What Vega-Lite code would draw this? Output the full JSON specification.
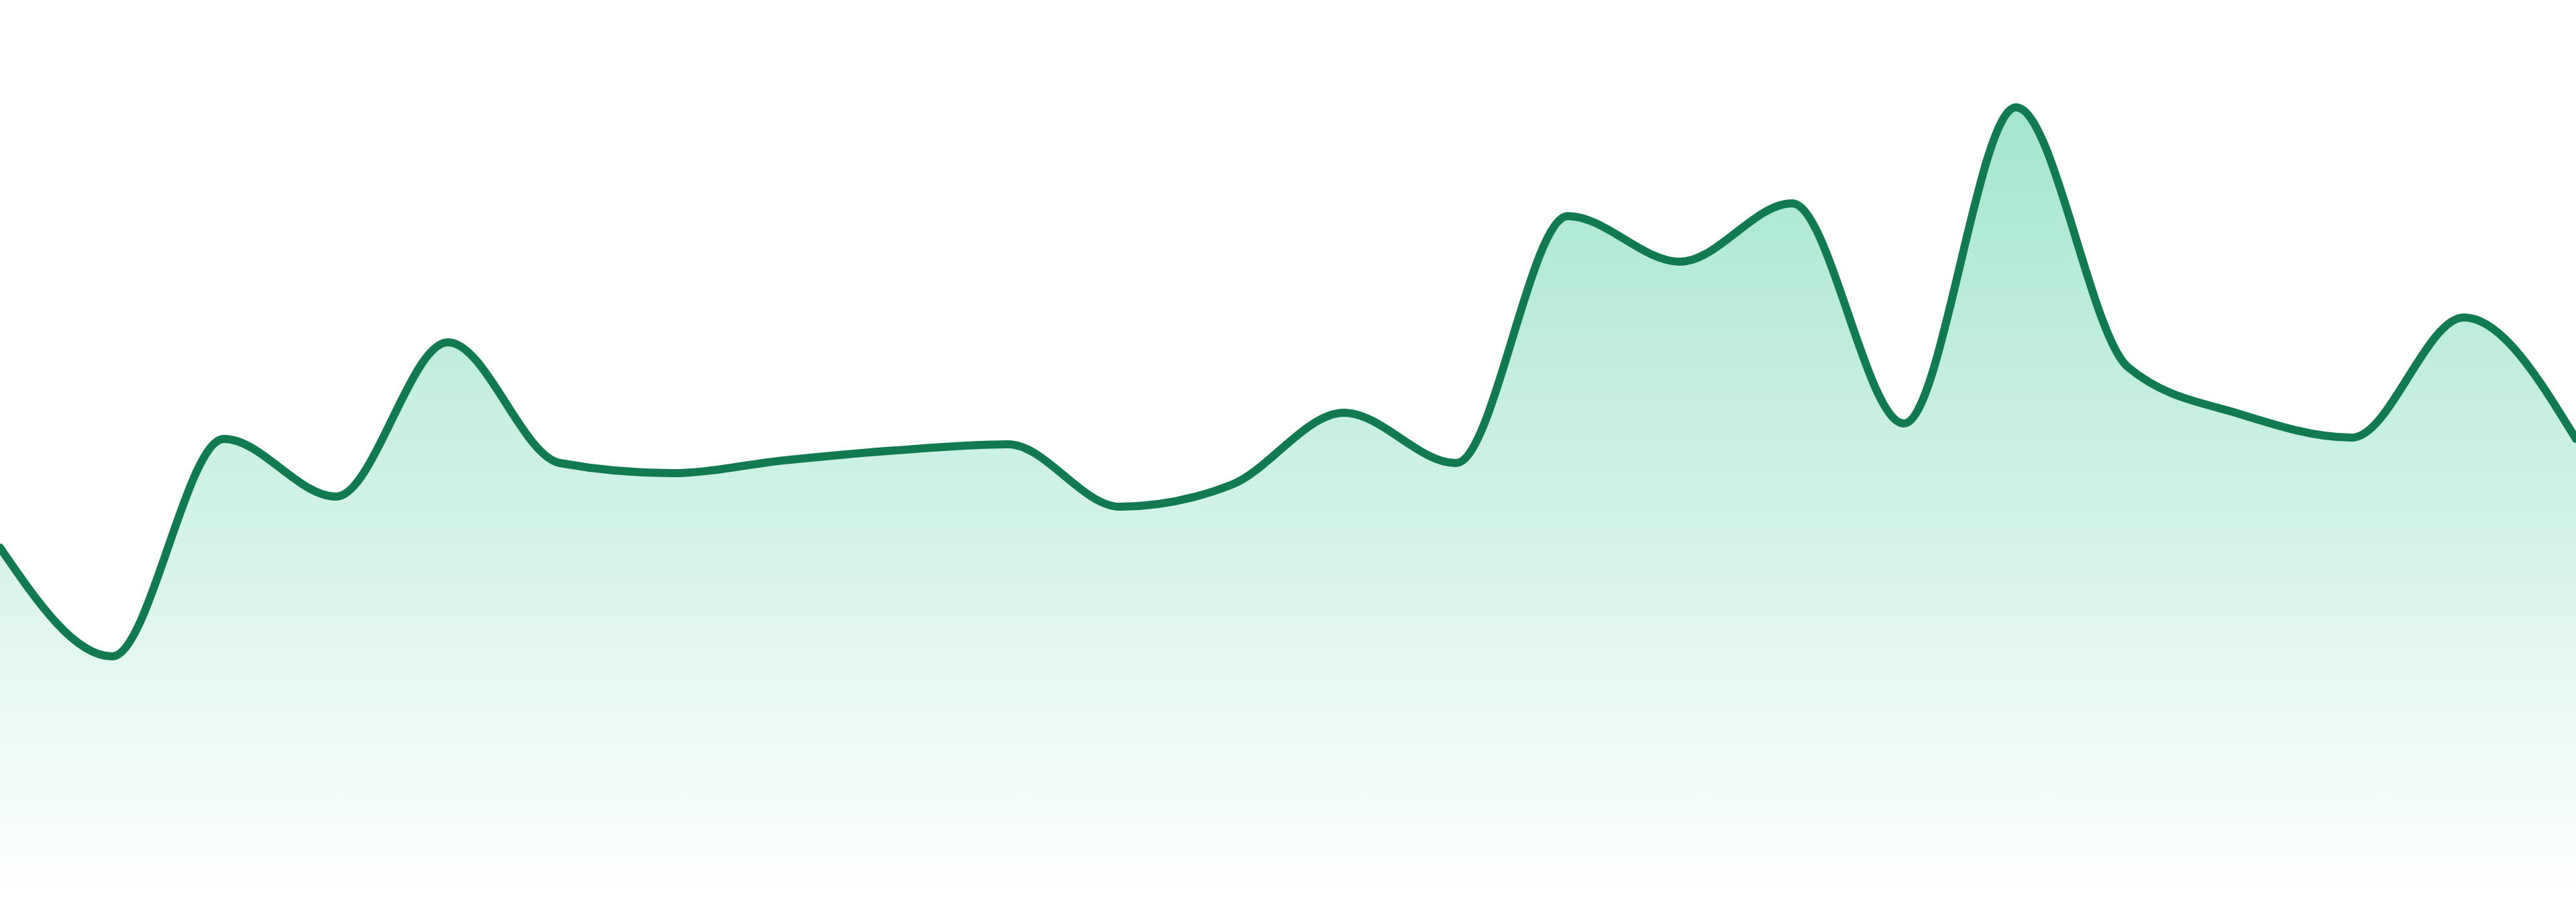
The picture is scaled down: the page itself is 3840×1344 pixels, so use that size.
{
  "$schema": "https://vega.github.io/schema/vega-lite/v6.json",
  "width": 3840,
  "height": 1344,
  "autosize": {"type": "fit", "contains": "padding"},
  "padding": 0,
  "background": "#ffffff",
  "config": {"view": {"stroke": null}},
  "data": {
    "values": [
      {"i": 0, "v": 528},
      {"i": 1, "v": 366},
      {"i": 2, "v": 690},
      {"i": 3, "v": 604},
      {"i": 4, "v": 834},
      {"i": 5, "v": 654},
      {"i": 6, "v": 639},
      {"i": 7, "v": 658},
      {"i": 8, "v": 673},
      {"i": 9, "v": 682},
      {"i": 10, "v": 589},
      {"i": 11, "v": 622},
      {"i": 12, "v": 729},
      {"i": 13, "v": 654},
      {"i": 14, "v": 1022},
      {"i": 15, "v": 954},
      {"i": 16, "v": 1041},
      {"i": 17, "v": 713},
      {"i": 18, "v": 1184},
      {"i": 19, "v": 797},
      {"i": 20, "v": 727},
      {"i": 21, "v": 692},
      {"i": 22, "v": 871},
      {"i": 23, "v": 690}
    ]
  },
  "encoding": {
    "x": {"field": "i", "type": "quantitative", "axis": null, "scale": {"domain": [0, 23], "nice": false, "zero": false}},
    "y": {"field": "v", "type": "quantitative", "axis": null, "scale": {"domain": [0, 1344], "nice": false}}
  },
  "layer": [
    {
      "mark": {
        "type": "area",
        "interpolate": "monotone",
        "clip": true,
        "color": {
          "gradient": "linear",
          "x1": 0, "y1": 0, "x2": 0, "y2": 1,
          "stops": [
            {"offset": 0, "color": "rgba(16,185,129,0.38)"},
            {"offset": 1, "color": "rgba(16,185,129,0)"}
          ]
        }
      }
    },
    {
      "mark": {
        "type": "line",
        "interpolate": "monotone",
        "clip": true,
        "color": "#117a50",
        "strokeWidth": 12,
        "strokeJoin": "round",
        "strokeCap": "round"
      }
    }
  ]
}
